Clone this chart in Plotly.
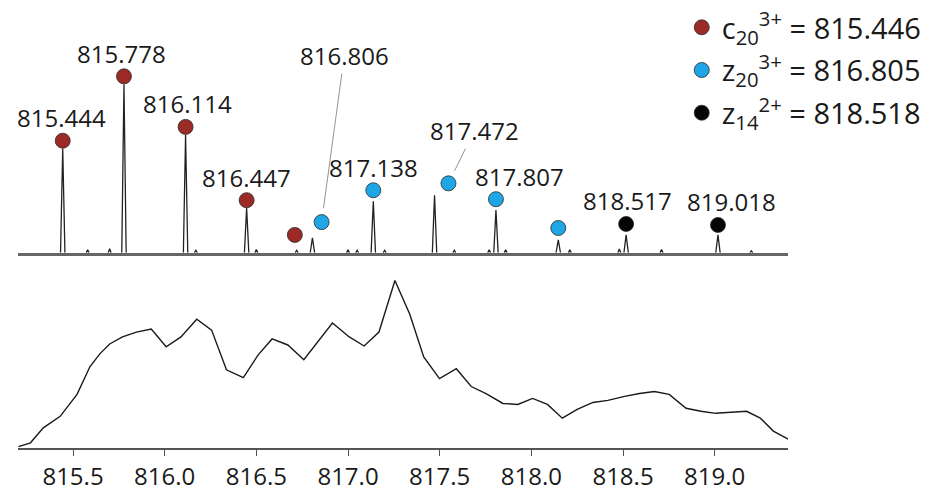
import plotly.graph_objects as go

# ---- upper panel: centroided isotope peaks (relative intensity, tallest = 100) ----
peak_mz = [815.444, 815.778, 816.114, 816.447, 816.806, 817.138,
           817.472, 817.807, 818.147, 818.517, 819.018]
peak_int = [61.8, 100.0, 70.0, 26.5, 8.8, 30.6, 34.1, 25.3, 7.6, 10.6, 10.6]

# small baseline noise peaks
noise_mz = [815.58, 815.70, 816.17, 816.50, 816.72, 817.00, 817.05, 817.20,
            817.58, 817.77, 817.86, 818.21, 818.48, 818.71, 819.20]
noise_int = [1.8, 2.4, 1.5, 2.0, 1.5, 1.8, 1.5, 1.5, 1.5, 1.8, 1.8, 1.8, 2.2, 2.0, 1.2]

# isotope-series markers (position, height)
c20_mz = [815.444, 815.778, 816.114, 816.447, 816.710]
c20_int = [66.5, 104.7, 74.7, 31.2, 10.6]
z20_mz = [816.856, 817.138, 817.548, 817.807, 818.147]
z20_int = [18.2, 37.1, 41.2, 31.8, 14.7]
z14_mz = [818.517, 819.018]
z14_int = [17.1, 16.5]

series_names = ["c<sub>20</sub><sup>3+</sup> = 815.446",
                "z<sub>20</sub><sup>3+</sup> = 816.805",
                "z<sub>14</sub><sup>2+</sup> = 818.518"]

# peak labels drawn directly above their markers
label_mz = [815.444, 815.778, 816.114, 816.447, 817.138, 817.807, 818.517, 819.018]
label_int = [66.5, 104.7, 74.7, 31.2, 37.1, 31.8, 17.1, 16.5]
label_dx = [-1, -2, 2, 0, 0, 24, 1, 14]

# labels joined to their marker by a leader line: (text value, marker mz, marker int, text mz, text int)
leader_labels = [(816.806, 816.856, 18.2, 816.980, 117.1),
                 (817.472, 817.548, 41.2, 817.688, 72.4)]

# ---- lower panel: unresolved profile (relative intensity) ----
lc_mz = [815.203, 815.268, 815.338, 815.430, 815.522, 815.592, 815.646, 815.700,
         815.770, 815.846, 815.927, 816.008, 816.089, 816.175, 816.256, 816.337,
         816.429, 816.510, 816.586, 816.672, 816.759, 816.845, 816.915, 817.007,
         817.088, 817.169, 817.256, 817.337, 817.413, 817.499, 817.591, 817.672,
         817.753, 817.845, 817.926, 818.007, 818.088, 818.169, 818.250, 818.336,
         818.417, 818.509, 818.590, 818.671, 818.752, 818.844, 818.925, 819.006,
         819.087, 819.174, 819.249, 819.320, 819.401]
lc_int = [0.8, 3.1, 12.0, 18.9, 32.0, 48.5, 56.2, 62.1,
          66.3, 69.2, 71.0, 60.4, 66.3, 76.9, 70.4, 46.7,
          42.0, 55.6, 65.1, 61.5, 52.7, 64.5, 74.6, 66.3,
          60.9, 69.2, 100.0, 79.9, 54.4, 41.4, 47.3, 36.7,
          32.5, 26.6, 26.0, 29.6, 26.0, 17.8, 23.1, 27.2,
          28.4, 30.8, 32.5, 33.7, 32.0, 23.7, 21.9, 20.7,
          21.3, 21.9, 17.8, 10.1, 5.3]

x_ticks = [815.5, 816.0, 816.5, 817.0, 817.5, 818.0, 818.5, 819.0]

FONT = "Open Sans, Noto Sans, sans-serif"
TEXT = "#1a1a1a"


def spikes(centres, heights, half):
    xs, ys = [], []
    for c, h in zip(centres, heights):
        xs += [c - half, c, c + half, None]
        ys += [0, h, 0, None]
    return xs, ys


px, py = spikes(peak_mz, peak_int, 0.012)
nx, ny = spikes(noise_mz, noise_int, 0.008)

fig = go.Figure()

fig.add_trace(go.Scatter(x=lc_mz, y=lc_int, mode="lines", xaxis="x", yaxis="y",
                         line=dict(color="#1a1a1a", width=1.4), showlegend=False,
                         hoverinfo="skip"))

fig.add_trace(go.Scatter(x=px + nx, y=py + ny, mode="lines", xaxis="x2", yaxis="y2",
                         line=dict(color="#222222", width=1.3), showlegend=False,
                         hoverinfo="skip", connectgaps=False))

marker_sets = [(c20_mz, c20_int, "#9c2a27"),
               (z20_mz, z20_int, "#1ea6e6"),
               (z14_mz, z14_int, "#050505")]
for i, ((mx, my, col), name) in enumerate(zip(marker_sets, series_names)):
    fig.add_trace(go.Scatter(x=mx, y=my, mode="markers", xaxis="x2", yaxis="y2",
                             name=name, legendgroup=f"g{i}",
                             marker=dict(size=15, color=col,
                                         line=dict(color="#2a2a2a", width=0.8)),
                             cliponaxis=False))

annotations = []
for v, h, dx in zip(label_mz, label_int, label_dx):
    annotations.append(dict(x=v, y=h, xref="x2", yref="y2", text=f"{v:.3f}",
                            showarrow=False, xshift=dx, yshift=23,
                            font=dict(family=FONT, size=24, color=TEXT)))
for v, mx, my, tx, ty in leader_labels:
    annotations.append(dict(x=mx, y=my, xref="x2", yref="y2",
                            ax=tx, ay=ty, axref="x2", ayref="y2",
                            text=f"{v:.3f}", showarrow=True, arrowhead=0,
                            arrowwidth=0.8, arrowcolor="#777777", standoff=14,
                            font=dict(family=FONT, size=24, color=TEXT)))

fig.update_layout(
    width=927, height=492,
    margin=dict(l=18, r=132, t=0, b=40),
    paper_bgcolor="white", plot_bgcolor="white",
    font=dict(family=FONT, color=TEXT),
    annotations=annotations,
    showlegend=True,
    legend=dict(x=0.862, y=0.9956, xanchor="left", yanchor="top",
                font=dict(family=FONT, size=29, color=TEXT),
                itemwidth=30, tracegroupgap=2, bgcolor="rgba(0,0,0,0)"),
    xaxis=dict(domain=[0, 1], range=[815.2, 819.4], anchor="y",
               showline=True, linecolor="#555555", linewidth=1.5,
               ticks="outside", ticklen=6, tickcolor="#555555", tickwidth=1.2,
               tickvals=x_ticks, ticktext=[f"{t:.1f}" for t in x_ticks],
               tickfont=dict(family=FONT, size=24, color=TEXT),
               showgrid=False, zeroline=False),
    yaxis=dict(domain=[0, 0.4027], range=[0, 107.7], visible=False),
    xaxis2=dict(domain=[0, 1], range=[815.2, 819.4], anchor="y2",
                showline=True, linecolor="#666666", linewidth=2.5,
                showticklabels=False, ticks="", showgrid=False, zeroline=False),
    yaxis2=dict(domain=[0.4358, 1], range=[0, 150], visible=False),
)

fig.write_html("out.html")
